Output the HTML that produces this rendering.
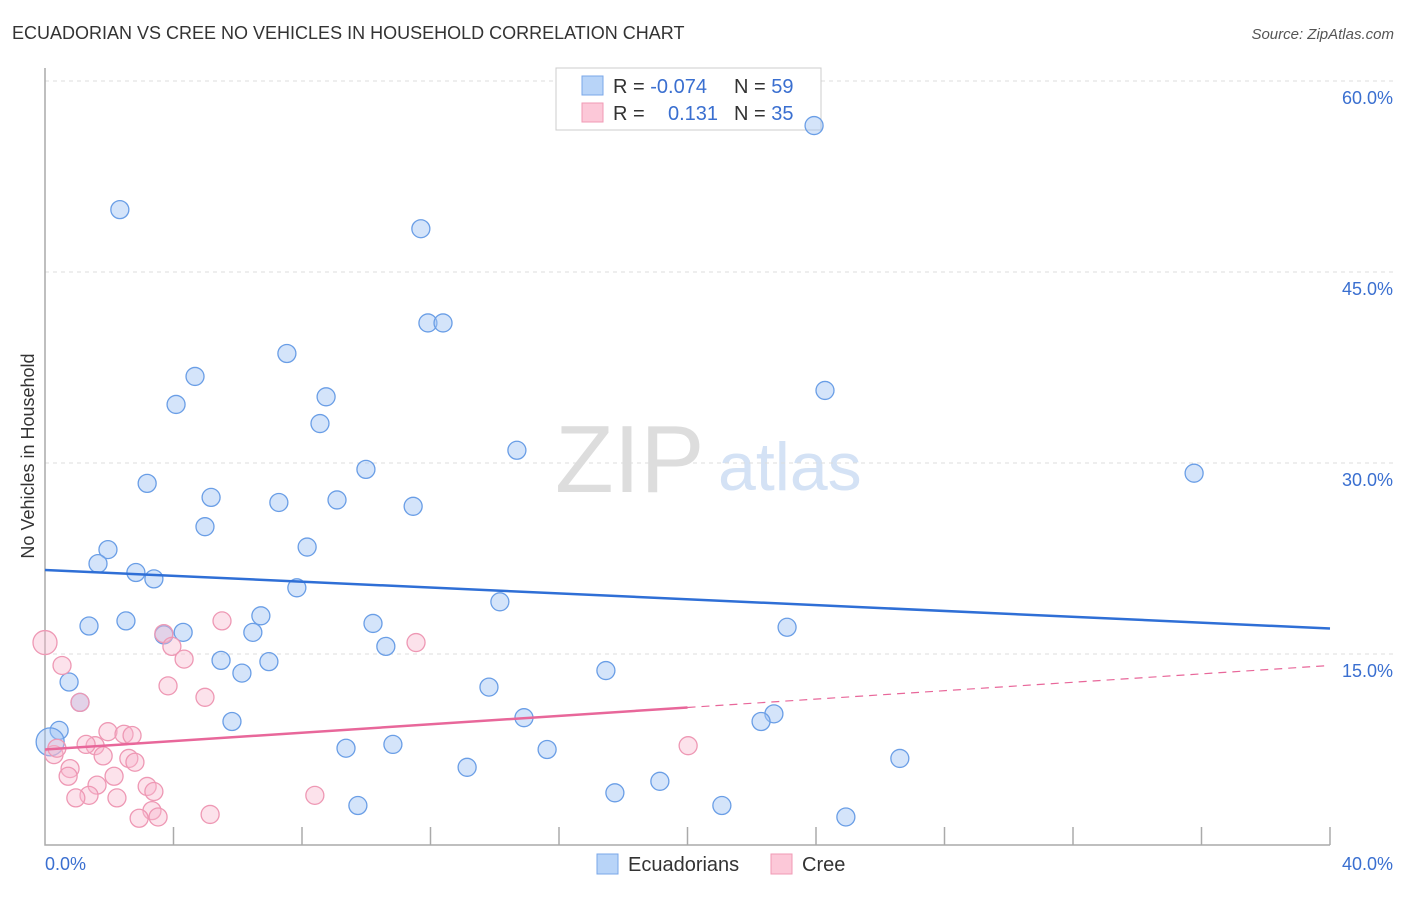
<!DOCTYPE html>
<html><head><meta charset="utf-8"><style>
body{margin:0;background:#fff;font-family:"Liberation Sans",sans-serif}
svg text{font-family:"Liberation Sans",sans-serif}
</style></head><body>
<svg id="c" width="1406" height="892">
<text x="12" y="39" font-size="18" fill="#333">ECUADORIAN VS CREE NO VEHICLES IN HOUSEHOLD CORRELATION CHART</text>
<text x="1394" y="39" font-size="15" fill="#555" font-style="italic" text-anchor="end">Source: ZipAtlas.com</text>
<text x="34" y="456" font-size="18" fill="#333" text-anchor="middle" transform="rotate(-90 34 456)">No Vehicles in Household</text>
<text x="555" y="492" font-size="96" fill="#ddd" font-family="Liberation Serif">ZIP</text>
<text x="718" y="490" font-size="68" fill="#d4e2f5">atlas</text>
<g id="grid"></g>
<g>
<rect x="556" y="68" width="265" height="62" fill="#fff" stroke="#ccc"/>
<rect x="582" y="76" width="21" height="19" fill="#b8d4f8" stroke="#7aa7e8"/>
<rect x="582" y="103" width="21" height="19" fill="#fcc8d8" stroke="#f09ab5"/>
<text x="613" y="93" font-size="20" fill="#333">R = <tspan fill="#3a6fd0">-0.074</tspan></text>
<text x="734" y="93" font-size="20" fill="#333">N = <tspan fill="#3a6fd0">59</tspan></text>
<text x="613" y="120" font-size="20" fill="#333">R = <tspan fill="#3a6fd0" x="668">0.131</tspan></text>
<text x="734" y="120" font-size="20" fill="#333">N = <tspan fill="#3a6fd0">35</tspan></text>
</g>
<g id="pts"></g><g id="lines"></g>
<g>
<rect x="597" y="854" width="21" height="20" fill="#b8d4f8" stroke="#7aa7e8"/>
<text x="628" y="871" font-size="20" fill="#333">Ecuadorians</text>
<rect x="771" y="854" width="21" height="20" fill="#fcc8d8" stroke="#f09ab5"/>
<text x="802" y="871" font-size="20" fill="#333">Cree</text>
</g>
</svg>
<script>
const yTicks=[15,30,45,60];
const yTickLabels=["15.0%","30.0%","45.0%","60.0%"];
const xEndLabels=["0.0%","40.0%"];
const blueX=[2.33,11.70,23.94,11.92,12.39,7.53,4.67,4.08,8.75,8.56,24.28,14.69,9.99,3.18,5.17,7.28,9.09,11.46,4.98,35.77,1.96,8.16,1.65,2.83,3.39,7.84,14.16,6.72,1.37,2.52,10.21,23.10,4.30,3.70,6.47,10.61,5.48,6.97,6.13,17.46,0.75,1.09,13.82,5.82,14.91,22.69,22.29,0.44,0.16,9.37,10.83,15.63,26.61,13.14,19.14,17.74,9.74,21.07,24.93];
const blueY=[49.9,48.4,56.5,41.0,41.0,38.6,36.8,34.6,35.2,33.1,35.7,31.0,29.5,28.4,27.3,26.9,27.1,26.6,25.0,29.2,23.2,23.4,22.1,21.4,20.9,20.2,19.1,18.0,17.2,17.6,17.4,17.1,16.7,16.5,16.7,15.6,14.5,14.4,13.5,13.7,12.8,11.2,12.4,9.7,10.0,10.3,9.7,9.0,8.1,7.6,7.9,7.5,6.8,6.1,5.0,4.1,3.1,3.1,2.2];
const pinkX=[0,0.53,1.09,3.70,3.95,4.33,5.51,11.55,3.83,4.98,1.96,2.46,2.71,1.56,1.28,0.28,0.37,1.81,0.78,2.61,2.80,0.72,2.15,3.18,3.39,1.62,1.37,0.96,2.24,20.02,8.40,3.33,3.52,2.93,5.14];
const pinkY=[15.9,14.1,11.2,16.6,15.6,14.6,17.6,15.9,12.5,11.6,8.9,8.7,8.6,7.8,7.9,7.1,7.6,7.0,6.0,6.8,6.5,5.4,5.4,4.6,4.2,4.7,3.9,3.7,3.7,7.8,3.9,2.7,2.2,2.1,2.4];
const blueTrend=[21.6,17.0];
const pinkTrend=[7.5,14.1];
const pinkSolidEnd=20;
const NS="http://www.w3.org/2000/svg";
const X0=45,X1=1330,YB=845;
const sx=v=>X0+v*(X1-X0)/40;
const sy=v=>YB-v*12.733;
function mk(t,a,p){const e=document.createElementNS(NS,t);for(const k in a)e.setAttribute(k,a[k]);p.appendChild(e);return e;}
const grid=document.getElementById('grid');
yTicks.forEach((t,i)=>{
 const l=mk('line',{x1:X0,x2:1394,y1:sy(t),y2:sy(t),stroke:'#ddd','stroke-dasharray':'4,4'},grid);
 
 
 const tx=mk('text',{x:1393,y:sy(t)+23,'font-size':18,fill:'#3a6fd0','text-anchor':'end'},grid);
 tx.textContent=yTickLabels[i];
 
 
});
const ax=mk('path',{d:`M${X0} 68V${YB}H${X1}`,stroke:'#aaa',fill:'none','stroke-width':1.5},grid);


for(let i=1;i<=10;i++){const t=mk('line',{x1:sx(i*4),x2:sx(i*4),y1:YB,y2:YB-18,stroke:'#aaa','stroke-width':1.5},grid);
 
 }
[[0,'start',45],[40,'end',1393]].forEach((d,i)=>{const t=mk('text',{x:d[2],y:870,'font-size':18,fill:'#3a6fd0','text-anchor':d[1]},grid);t.textContent=xEndLabels[i];
 
 });
const pts=document.getElementById('pts');
blueX.forEach((x,i)=>{const c=mk('circle',{cx:sx(x),cy:sy(blueY[i]),r:(i==48?14:9),fill:'rgba(160,196,245,0.45)',stroke:'#6a9ee6','stroke-width':1.3},pts);
 
 });
pinkX.forEach((x,i)=>{const c=mk('circle',{cx:sx(x),cy:sy(pinkY[i]),r:(i==0?12:9),fill:'rgba(248,182,204,0.4)',stroke:'#ee98b4','stroke-width':1.3},pts);
 
 });
const lines=document.getElementById('lines');
const b=mk('line',{x1:sx(0),y1:sy(blueTrend[0]),x2:sx(40),y2:sy(blueTrend[1]),stroke:'#2f6fd6','stroke-width':2.5},lines);


const pm=pinkTrend[0]+(pinkTrend[1]-pinkTrend[0])*pinkSolidEnd/40;
const p1=mk('line',{x1:sx(0),y1:sy(pinkTrend[0]),x2:sx(pinkSolidEnd),y2:sy(pm),stroke:'#e8679a','stroke-width':2.5},lines);


const p2=mk('line',{x1:sx(pinkSolidEnd),y1:sy(pm),x2:sx(40),y2:sy(pinkTrend[1]),stroke:'#e8679a','stroke-width':1.2,'stroke-dasharray':'8,6'},lines);


</script>
</body></html>
